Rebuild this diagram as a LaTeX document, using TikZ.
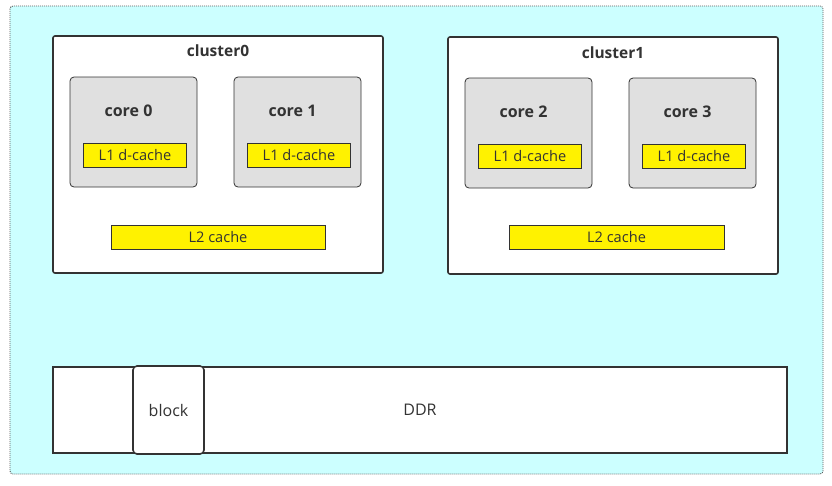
\documentclass[tikz,border=0pt]{standalone}
\usepackage{fontspec}
\setmainfont{Open Sans}
\usetikzlibrary{positioning}
\definecolor{bgcyan}{HTML}{CCFFFF}
\definecolor{coregray}{HTML}{E0E0E0}
\definecolor{edge}{HTML}{333333}
\tikzstyle{clusterbox}=[draw=edge, fill=white, line width=1.6, rounded corners=2, minimum width=330, minimum height=237]
\tikzstyle{corebox}=[draw=edge, fill=coregray, line width=0.8, rounded corners=4, minimum width=127, minimum height=110]
\tikzstyle{cachebox}=[draw=edge, fill=yellow, line width=0.8, minimum height=24, font=\fontsize{14.6}{17}\selectfont, text=black!80]
\tikzstyle{title}=[font=\fontsize{16}{19}\selectfont\bfseries, text=edge]
\newcommand{\drawcore}[4]{
  \node[corebox] (#1) at (#2,#3) {};
  \node[title] at ([xshift=-5, yshift=21]#1.center) {#4};
  \node[cachebox, minimum width=103] (#1L1) at ([xshift=1.5, yshift=-23]#1.center) {L1 d-cache};
}

\begin{document}
\begin{tikzpicture}[x=1pt, y=-1pt]
      \useasboundingbox (0,0) rectangle (832,485);
      \draw[edge!80, line width=0.9, dash pattern=on 1pt off 1pt, fill=bgcyan, rounded corners=3] (10,6) rectangle (823,474);
      % clusters
      \node[clusterbox] (CL0) at (218,154.5) {};
      \node[clusterbox] (CL1) at (613,155.5) {};
      \node[title, font=\fontsize{15.5}{18}\selectfont\bfseries] at (218,51) {cluster0};
      \node[title, font=\fontsize{15.5}{18}\selectfont\bfseries] at (613,53) {cluster1};
      \drawcore{C0}{133.5}{132}{core 0}
      \drawcore{C1}{297.5}{132}{core 1}
      \drawcore{C2}{528.5}{133}{core 2}
      \drawcore{C3}{692.5}{133}{core 3}
      \node[cachebox, minimum width=214] (L2a) at (218,237) {L2 cache};
      \node[cachebox, minimum width=215] (L2b) at (616.5,237) {L2 cache};
      % memory
      \node[draw=edge, fill=white, line width=1.6, minimum width=734, minimum height=86, font=\fontsize{16}{19}\selectfont, text=edge] (DDR) at (420,410) {DDR};
      \node[draw=edge, fill=white, line width=1.6, rounded corners=4, minimum width=71, minimum height=88, font=\fontsize{16}{19}\selectfont, text=edge] (BLK) at (168.5,410) {block};
    \end{tikzpicture}
\end{document}
